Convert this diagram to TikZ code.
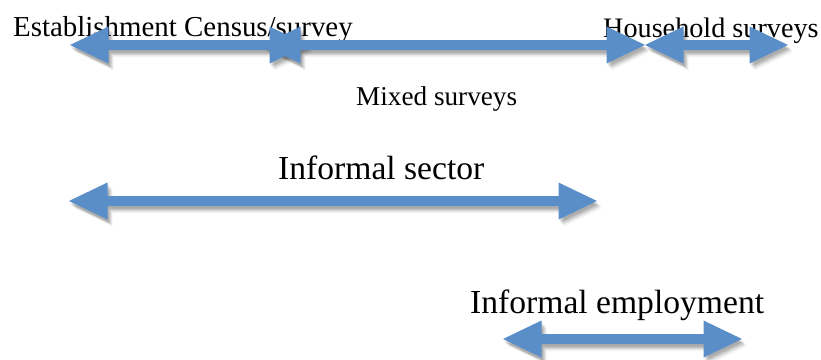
\documentclass[tikz,border=0pt]{standalone}
\usepackage{fontspec}
\setmainfont{Liberation Serif}
\usetikzlibrary{calc}
\definecolor{arrowblue}{RGB}{89,142,200}
\newcommand{\hl}{38.5}
\newcommand{\hw}{18.5}
\newcommand{\sw}{5}
\newcommand{\arrshape}[2]{(#1) -- ($(#1)+(\hl,-\hw)$) -- ($(#1)+(\hl,-\sw)$) -- ($(#2)+(-\hl,-\sw)$) -- ($(#2)+(-\hl,-\hw)$) -- (#2) -- ($(#2)+(-\hl,\hw)$) -- ($(#2)+(-\hl,\sw)$) -- ($(#1)+(\hl,\sw)$) -- ($(#1)+(\hl,\hw)$) -- cycle}
\newcommand{\arrshadow}[2]{%
  \foreach \dx/\dy/\op in {1/2.5/0.08, 2/3.5/0.09, 3/4.5/0.09, 4/5.5/0.07, 5/7/0.05}{%
    \fill[black, fill opacity=\op, transform canvas={xshift=\dx pt, yshift=-\dy pt}] \arrshape{#1}{#2};
  }%
}
\newcommand{\arrmain}[2]{\fill[arrowblue] \arrshape{#1}{#2};}
\tikzset{
  toplabel/.style={anchor=base west, inner sep=0pt, font=\fontsize{28.6}{30}\selectfont},
  biglabel/.style={anchor=base west, inner sep=0pt, font=\fontsize{33.6}{36}\selectfont}
}
\begin{document}
\begin{tikzpicture}[x=1pt, y=-1pt]
\useasboundingbox (0,0) rectangle (821,359);
% labels
\node[toplabel, font=\fontsize{28.9}{30}\selectfont] (est) at (13,36) {Establishment Census/survey};
\node[toplabel, font=\fontsize{28.2}{30}\selectfont] (hh) at (603,37) {Household surveys};
\node[toplabel, font=\fontsize{27.2}{29}\selectfont] (mix) at (356,105) {Mixed surveys};
\node[biglabel] (sec) at (278,179) {Informal sector};
\node[biglabel] (emp) at (470,313) {Informal employment};
% arrow end points
\coordinate (estL) at (70,45);
\coordinate (estR) at (308,45);
\coordinate (mixL) at (262,45);
\coordinate (mixR) at (645,45);
\coordinate (hhL) at (645,45);
\coordinate (hhR) at (788,45);
\coordinate (secL) at (69,201);
\coordinate (secR) at (597,201);
\coordinate (empL) at (503,339);
\coordinate (empR) at (742,339);
% shadows
\arrshadow{estL}{estR}
\arrshadow{mixL}{mixR}
\arrshadow{hhL}{hhR}
\arrshadow{secL}{secR}
\arrshadow{empL}{empR}
% arrows
\arrmain{estL}{estR}
\arrmain{mixL}{mixR}
\arrmain{hhL}{hhR}
\arrmain{secL}{secR}
\arrmain{empL}{empR}
\end{tikzpicture}
\end{document}
